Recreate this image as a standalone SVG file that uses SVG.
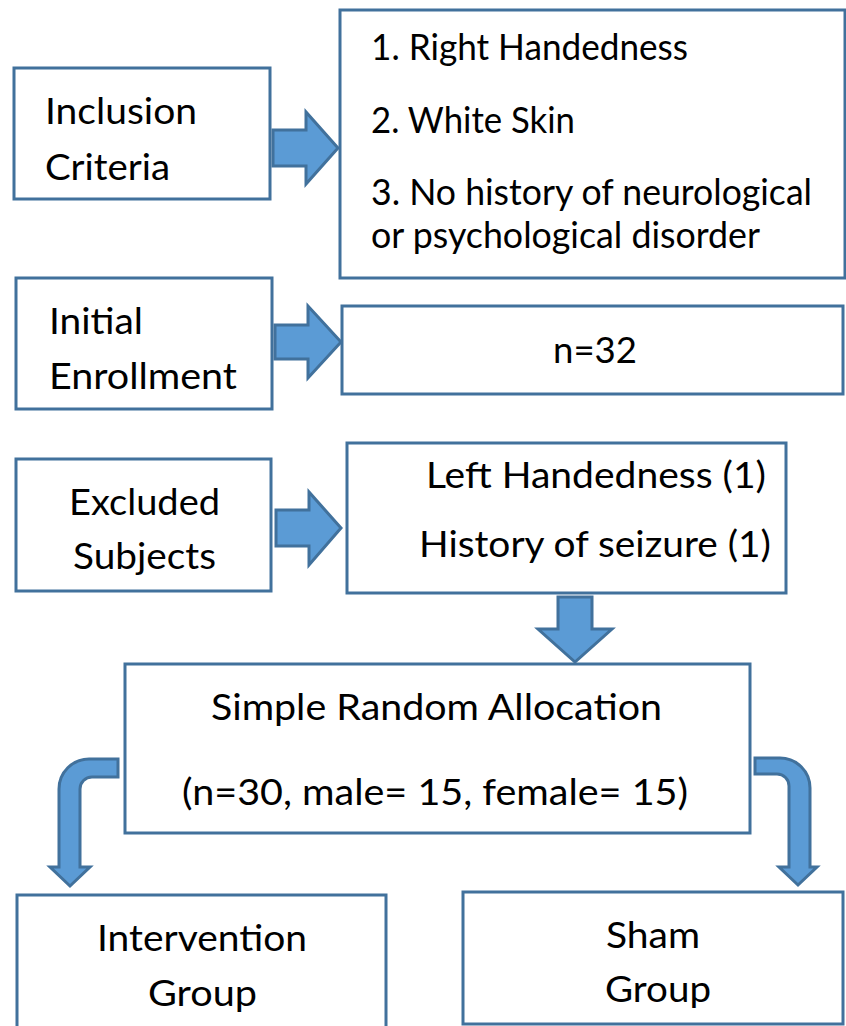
<svg xmlns="http://www.w3.org/2000/svg" width="846" height="1026" viewBox="0 0 846 1026">
<style>
.box{fill:#fff;stroke:#41719c;stroke-width:3}
.arr{fill:#5b9bd5;stroke:#41719c;stroke-width:3;stroke-linejoin:miter}
text{font-family:Lato,"Liberation Sans",sans-serif;font-size:37px;fill:#000}
</style>
<rect width="846" height="1026" fill="#fff"/>
<g id="connectors">
<path class="arr" d="M273,130 H306 V112 L338,148 L306,184 V166 H273 Z"/>
<path class="arr" d="M275,325 H308 V306 L341,342 L308,378 V359 H275 Z"/>
<path class="arr" d="M276,510 H309 V492 L341,528 L309,565 V546 H276 Z"/>
<path class="arr" d="M558,597 H592 V629 H612 L575,662 L538,629 H558 Z"/>
<path class="arr" d="M118,759 V777 H92 A12,12 0 0 0 80,789 V867 H90 L70,886 L50,867 H59 V789 A30,30 0 0 1 89,759 Z"/>
<path class="arr" d="M755,758 H780 A30,30 0 0 1 810,788 V867 H817 L798,885 L779,867 H789 V786 A12,12 0 0 0 777,774 H755 Z"/>
</g>
<g id="inclusion">
<rect class="box" x="14" y="68" width="256" height="131"/>
<text x="45" y="124" textLength="152" lengthAdjust="spacingAndGlyphs">Inclusion</text>
<text x="45" y="180" textLength="125" lengthAdjust="spacingAndGlyphs">Criteria</text>
</g>
<g id="criteria">
<rect class="box" x="340" y="10" width="505" height="268"/>
<text x="371" y="60" textLength="317" lengthAdjust="spacingAndGlyphs">1. Right Handedness</text>
<text x="371" y="133" textLength="204" lengthAdjust="spacingAndGlyphs">2. White Skin</text>
<text x="371" y="205" textLength="441" lengthAdjust="spacingAndGlyphs">3. No history of neurological</text>
<text x="371" y="248" textLength="389" lengthAdjust="spacingAndGlyphs">or psychological disorder</text>
</g>
<g id="initial">
<rect class="box" x="16" y="278" width="256" height="131"/>
<text x="49" y="334" textLength="94" lengthAdjust="spacingAndGlyphs">Initial</text>
<text x="49" y="389" textLength="188" lengthAdjust="spacingAndGlyphs">Enrollment</text>
</g>
<g id="n32">
<rect class="box" x="342" y="306" width="501" height="88"/>
<text x="553" y="363" textLength="84" lengthAdjust="spacingAndGlyphs">n=32</text>
</g>
<g id="excluded">
<rect class="box" x="16" y="459" width="255" height="132"/>
<text x="69" y="515" textLength="151" lengthAdjust="spacingAndGlyphs">Excluded</text>
<text x="73" y="569" textLength="143" lengthAdjust="spacingAndGlyphs">Subjects</text>
</g>
<g id="exclusions">
<rect class="box" x="347" y="443" width="439" height="150"/>
<text x="426" y="488" textLength="340" lengthAdjust="spacingAndGlyphs">Left Handedness (1)</text>
<text x="419" y="557" textLength="352" lengthAdjust="spacingAndGlyphs">History of seizure (1)</text>
</g>
<g id="allocation">
<rect class="box" x="125" y="664" width="625" height="169"/>
<text x="211" y="720" textLength="451" lengthAdjust="spacingAndGlyphs">Simple Random Allocation</text>
<text x="182" y="805" textLength="506" lengthAdjust="spacingAndGlyphs">(n=30, male= 15, female= 15)</text>
</g>
<g id="intervention">
<rect class="box" x="17" y="895" width="369" height="140"/>
<text x="97" y="951" textLength="210" lengthAdjust="spacingAndGlyphs">Intervention</text>
<text x="148" y="1006" textLength="109" lengthAdjust="spacingAndGlyphs">Group</text>
</g>
<g id="sham">
<rect class="box" x="463" y="892" width="380" height="132"/>
<text x="606" y="948" textLength="94" lengthAdjust="spacingAndGlyphs">Sham</text>
<text x="605" y="1002" textLength="106" lengthAdjust="spacingAndGlyphs">Group</text>
</g>
</svg>
